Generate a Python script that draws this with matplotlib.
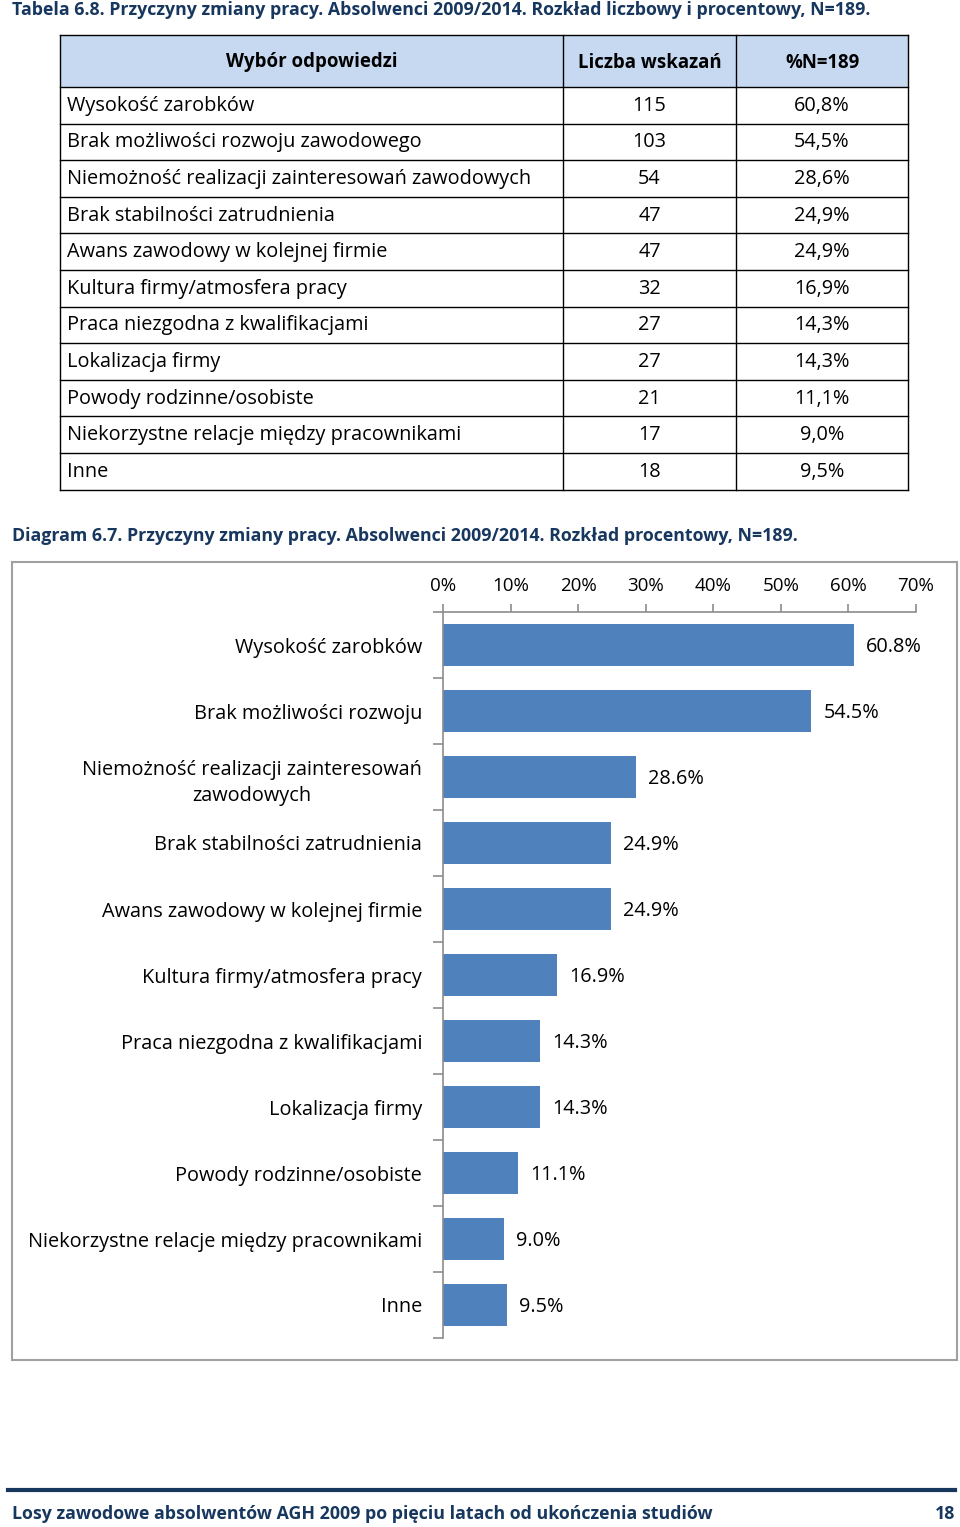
import matplotlib.pyplot as plt
from matplotlib.patches import Rectangle
from matplotlib.ticker import FuncFormatter

plt.rcParams['font.family'] = ['Open Sans', 'DejaVu Sans']

NAVY = '#17375E'
BAR = '#4F81BD'
GRID = '#8C8C8C'

# table data
reasons_full = ['Wysokość zarobków', 'Brak możliwości rozwoju zawodowego',
                'Niemożność realizacji zainteresowań zawodowych',
                'Brak stabilności zatrudnienia', 'Awans zawodowy w kolejnej firmie',
                'Kultura firmy/atmosfera pracy', 'Praca niezgodna z kwalifikacjami',
                'Lokalizacja firmy', 'Powody rodzinne/osobiste',
                'Niekorzystne relacje między pracownikami', 'Inne']
counts = [115, 103, 54, 47, 47, 32, 27, 27, 21, 17, 18]
pct_labels = ['60,8%', '54,5%', '28,6%', '24,9%', '24,9%', '16,9%',
              '14,3%', '14,3%', '11,1%', '9,0%', '9,5%']
headers = ['Wybór odpowiedzi', 'Liczba wskazań', '%N=189']

# chart data
reasons_chart = ['Wysokość zarobków', 'Brak możliwości rozwoju',
                 'Niemożność realizacji zainteresowań\nzawodowych',
                 'Brak stabilności zatrudnienia', 'Awans zawodowy w kolejnej firmie',
                 'Kultura firmy/atmosfera pracy', 'Praca niezgodna z kwalifikacjami',
                 'Lokalizacja firmy', 'Powody rodzinne/osobiste',
                 'Niekorzystne relacje między pracownikami', 'Inne']
shares = [60.8, 54.5, 28.6, 24.9, 24.9, 16.9, 14.3, 14.3, 11.1, 9.0, 9.5]
x_ticks = [0, 10, 20, 30, 40, 50, 60, 70]

W, H = 960, 1527
fig = plt.figure(figsize=(W / 100, H / 100), dpi=100)

# page layer in pixel coordinates
page = fig.add_axes([0, 0, 1, 1])
page.set_xlim(0, W)
page.set_ylim(H, 0)
page.axis('off')

page.text(12, 10, 'Tabela 6.8. Przyczyny zmiany pracy. Absolwenci 2009/2014. '
          'Rozkład liczbowy i procentowy, N=189.',
          color=NAVY, fontsize=12.75, fontweight='bold', va='center', ha='left')

# table
tx0, tx1, tx2, tx3 = 60, 563, 736, 908
top, head_h, row_h = 35, 52, 36.6
page.add_patch(Rectangle((tx0, top), tx3 - tx0, head_h, facecolor='#C6D9F1',
                         edgecolor='none'))
n = len(reasons_full)
bottom = top + head_h + n * row_h
for y in [top, top + head_h] + [top + head_h + (i + 1) * row_h for i in range(n)]:
    page.plot([tx0, tx3], [y, y], color='black', lw=1)
for x in (tx0, tx1, tx2, tx3):
    page.plot([x, x], [top, bottom], color='black', lw=1)

hy = top + head_h / 2 + 1.5
for (a, b), h in zip([(tx0, tx1), (tx1, tx2), (tx2, tx3)], headers):
    page.text((a + b) / 2, hy, h, ha='center', va='center',
              fontsize=13.4, fontweight='bold')
for i, (r, c, p) in enumerate(zip(reasons_full, counts, pct_labels)):
    y = top + head_h + (i + 0.5) * row_h + 0.5
    page.text(67, y, r, ha='left', va='center', fontsize=14.3)
    page.text((tx1 + tx2) / 2, y, str(c), ha='center', va='center', fontsize=14.3)
    page.text((tx2 + tx3) / 2, y, p, ha='center', va='center', fontsize=14.3)

page.text(12, 536, 'Diagram 6.7. Przyczyny zmiany pracy. Absolwenci 2009/2014. '
          'Rozkład procentowy, N=189.',
          color=NAVY, fontsize=12.75, fontweight='bold', va='center', ha='left')

# chart frame
page.add_patch(Rectangle((12, 562), 945, 798, facecolor='none',
                         edgecolor='#A0A0A0', lw=1.5))

# footer
page.plot([8, 955], [1490, 1490], color=NAVY, lw=3)
page.text(12, 1514, 'Losy zawodowe absolwentów AGH 2009 po pięciu latach od '
          'ukończenia studiów', color=NAVY, fontsize=12.75, fontweight='bold',
          va='center', ha='left')
page.text(955, 1514, '18', color=NAVY, fontsize=12.75, fontweight='bold',
          va='center', ha='right')

# bar chart
ax = fig.add_axes([443 / W, 1 - 1338 / H, (916 - 443) / W, (1338 - 612) / H])
pos = list(range(len(shares)))
ax.barh(pos, shares, height=0.64, color=BAR)
ax.set_xlim(0, 70)
ax.set_ylim(len(shares) - 0.5, -0.5)
ax.xaxis.tick_top()
ax.set_xticks(x_ticks)
ax.xaxis.set_major_formatter(FuncFormatter(lambda v, _: f'{v:.0f}%'))
ax.set_yticks([p - 0.5 for p in pos] + [len(pos) - 0.5], minor=False)
ax.set_yticklabels([])
ax.set_yticks(pos, minor=True)
ax.set_yticklabels(reasons_chart, minor=True, fontsize=14.3, ha='right',
                   multialignment='center', linespacing=1.45)
ax.tick_params(axis='y', which='minor', length=0, pad=15)
ax.tick_params(axis='y', which='major', length=7, color=GRID, width=1.2)
ax.tick_params(axis='x', length=6, color=GRID, width=1.2, pad=6, labelsize=13.5)
for s in ('right', 'bottom'):
    ax.spines[s].set_visible(False)
for s in ('left', 'top'):
    ax.spines[s].set_color(GRID)
    ax.spines[s].set_linewidth(1.2)
for p, v in zip(pos, shares):
    ax.text(v + 1.8, p + 0.03, f'{v:.1f}%', va='center', ha='left', fontsize=14.3)

fig.savefig('out.png', dpi=100)
